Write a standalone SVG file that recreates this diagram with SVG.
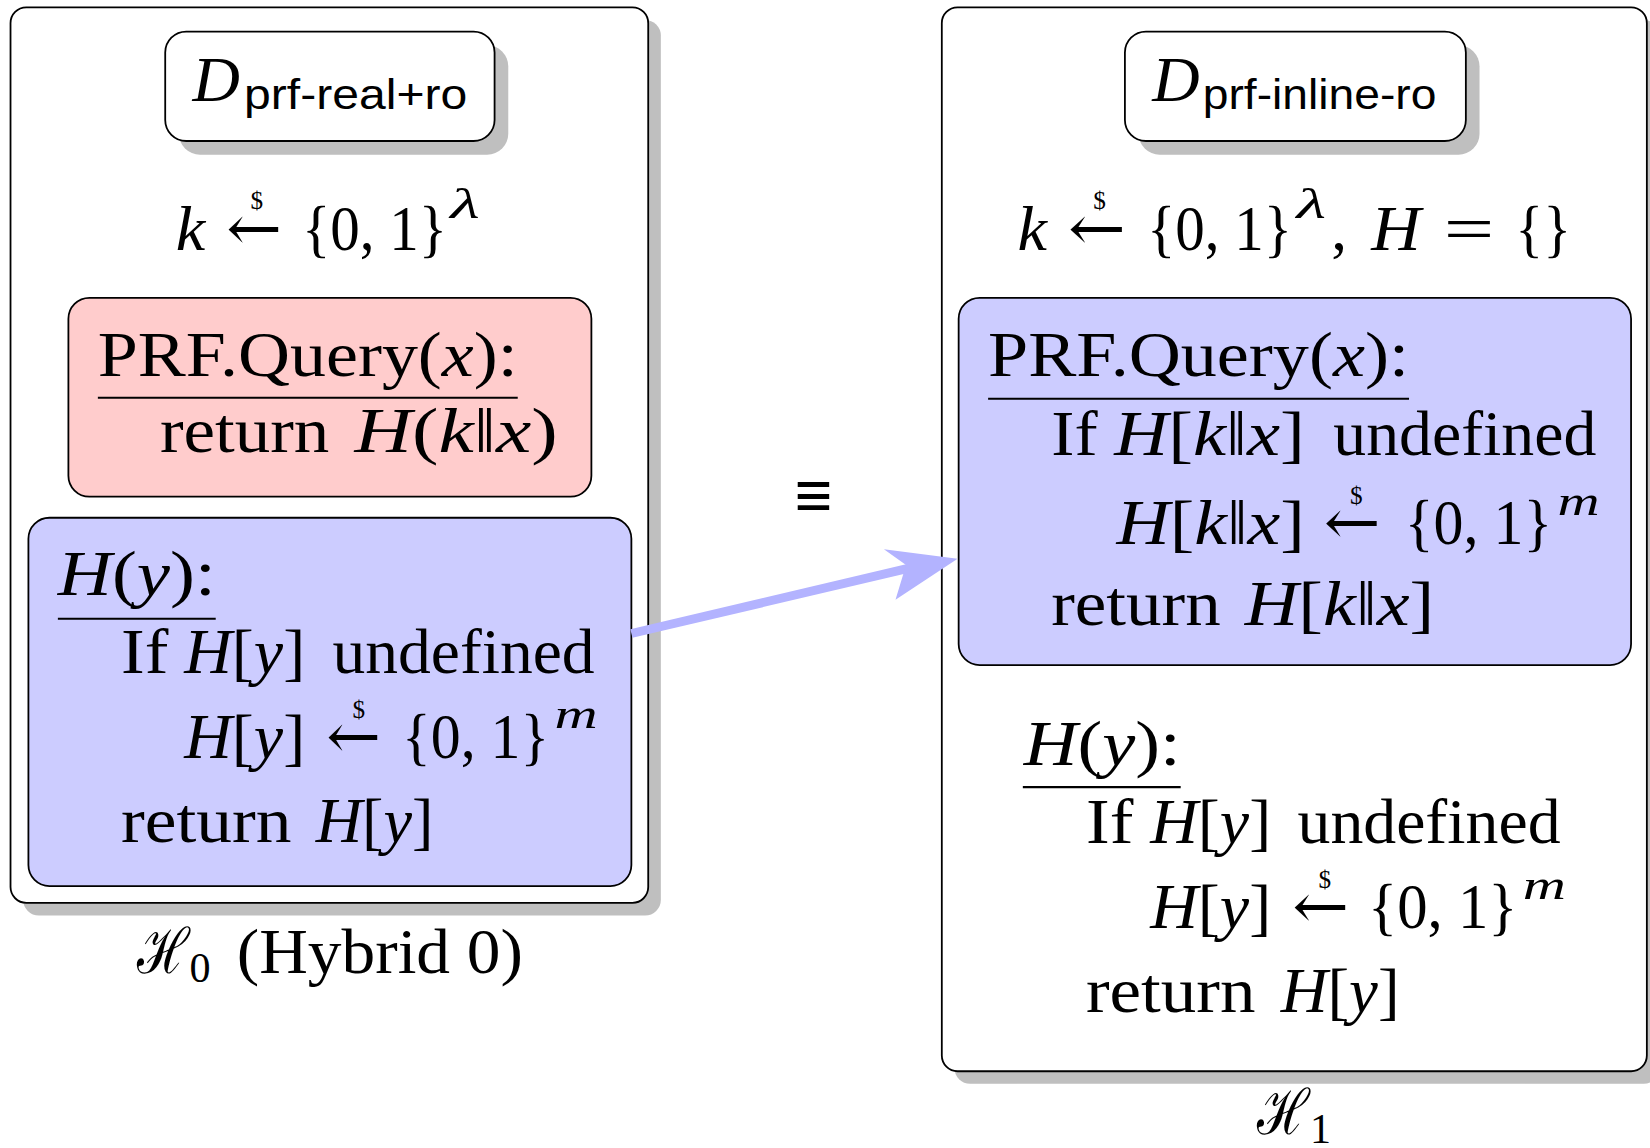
<svg xmlns="http://www.w3.org/2000/svg" width="1650" height="1148" viewBox="0 0 1650 1148">
<defs>
<style>
.t{font-family:"Liberation Serif","DejaVu Serif",serif;font-size:60px;fill:#000}
.i{font-style:italic}
.sf{font-family:"Liberation Sans","DejaVu Sans",sans-serif;font-size:40px}
.sm{font-size:40px}
.dl{font-size:24px}
.ar{font-family:"DejaVu Serif","Liberation Serif",serif}
.sh{fill:#bfbfbf;stroke:none}
.bx{fill:#fff;stroke:#000;stroke-width:1.7}
.red{fill:#ffcccc;stroke:#000;stroke-width:1.7}
.blue{fill:#ccccff;stroke:#000;stroke-width:1.7}
.ul{stroke:#000;stroke-width:2}
</style>
</defs>
<rect width="1650" height="1148" fill="#fff"/>
<g transform="scale(1.0523)">
<g id="hybrid0">
<rect class="sh" x="22" y="19" width="606" height="851" rx="15"/>
<rect class="bx" x="10" y="7" width="606" height="851" rx="15"/>
</g>
<g id="hybrid1">
<rect class="sh" x="907" y="19" width="670" height="1011" rx="15"/>
<rect class="bx" x="895" y="7" width="670" height="1011" rx="15"/>
</g>
<g id="dreal">
<rect class="sh" x="170" y="43" width="313" height="104" rx="20"/>
<rect class="bx" x="157" y="30" width="313" height="104" rx="20"/>
<text class="t i" x="183" y="96" font-size="62" textLength="45" lengthAdjust="spacingAndGlyphs">D</text>
<text class="t sf" x="232" y="104" textLength="212" lengthAdjust="spacingAndGlyphs">prf-real+ro</text>
</g>
<g id="kinit0">
<text class="t i" x="167" y="238" textLength="28" lengthAdjust="spacingAndGlyphs">k</text>
<text class="t ar" x="215" y="238" textLength="53" lengthAdjust="spacingAndGlyphs">←</text>
<text class="t dl" x="238" y="199">$</text>
<text class="t" x="287" y="238" textLength="138" lengthAdjust="spacingAndGlyphs">{0, 1}</text>
<text class="t i sm" x="428" y="207" textLength="28" lengthAdjust="spacingAndGlyphs">λ</text>
</g>
<g id="prfquery0">
<rect class="red" x="65" y="283" width="497" height="189" rx="20"/>
<text class="t" x="93" y="357" textLength="399" lengthAdjust="spacingAndGlyphs">PRF.Query(<tspan class="i">x</tspan>):</text>
<line class="ul" x1="93" y1="378" x2="492" y2="378"/>
<text class="t" x="152" y="430" textLength="161" lengthAdjust="spacingAndGlyphs">return</text>
<text class="t" x="337" y="430" textLength="193" lengthAdjust="spacingAndGlyphs"><tspan class="i">H</tspan>(<tspan class="i">k</tspan>‖<tspan class="i">x</tspan>)</text>
</g>
<g id="hfunc0">
<rect class="blue" x="27" y="492" width="573" height="350" rx="20"/>
<text class="t" x="55" y="565" textLength="150" lengthAdjust="spacingAndGlyphs"><tspan class="i">H</tspan>(<tspan class="i">y</tspan>):</text>
<line class="ul" x1="55" y1="588" x2="205" y2="588"/>
<text class="t" x="115" y="640" textLength="45" lengthAdjust="spacingAndGlyphs">If</text>
<text class="t" x="175" y="640" textLength="115" lengthAdjust="spacingAndGlyphs"><tspan class="i">H</tspan>[<tspan class="i">y</tspan>]</text>
<text class="t" x="316" y="640" textLength="249" lengthAdjust="spacingAndGlyphs">undefined</text>
<text class="t" x="175" y="720" textLength="115" lengthAdjust="spacingAndGlyphs"><tspan class="i">H</tspan>[<tspan class="i">y</tspan>]</text>
<text class="t ar" x="310" y="720" textLength="52" lengthAdjust="spacingAndGlyphs">←</text>
<text class="t dl" x="335" y="682">$</text>
<text class="t" x="382" y="720" textLength="140" lengthAdjust="spacingAndGlyphs">{0, 1}</text>
<text class="t i sm" x="527" y="692" textLength="41" lengthAdjust="spacingAndGlyphs">m</text>
<text class="t" x="115" y="800" textLength="162" lengthAdjust="spacingAndGlyphs">return</text>
<text class="t" x="300" y="800" textLength="112" lengthAdjust="spacingAndGlyphs"><tspan class="i">H</tspan>[<tspan class="i">y</tspan>]</text>
</g>
<g id="label0">
<text class="t ar" x="130" y="925" textLength="50" lengthAdjust="spacingAndGlyphs">ℋ</text>
<text class="t sm" x="180" y="933" textLength="20" lengthAdjust="spacingAndGlyphs">0</text>
<text class="t" x="225" y="925" textLength="272" lengthAdjust="spacingAndGlyphs">(Hybrid 0)</text>
</g>
<g id="equiv">
<text class="t ar" x="753" y="490" font-size="54" textLength="40" lengthAdjust="spacingAndGlyphs">≡</text>
</g>
<g id="dinline">
<rect class="sh" x="1082" y="43" width="324" height="104" rx="20"/>
<rect class="bx" x="1069" y="30" width="324" height="104" rx="20"/>
<text class="t i" x="1095" y="96" font-size="62" textLength="45" lengthAdjust="spacingAndGlyphs">D</text>
<text class="t sf" x="1143" y="104" textLength="222" lengthAdjust="spacingAndGlyphs">prf-inline-ro</text>
</g>
<g id="kinit1">
<text class="t i" x="967" y="238" textLength="28" lengthAdjust="spacingAndGlyphs">k</text>
<text class="t ar" x="1015" y="238" textLength="55" lengthAdjust="spacingAndGlyphs">←</text>
<text class="t dl" x="1039" y="199">$</text>
<text class="t" x="1090" y="238" textLength="138" lengthAdjust="spacingAndGlyphs">{0, 1}</text>
<text class="t i sm" x="1232" y="207" textLength="28" lengthAdjust="spacingAndGlyphs">λ</text>
<text class="t" x="1265" y="238">,</text>
<text class="t i" x="1303" y="238" textLength="47" lengthAdjust="spacingAndGlyphs">H</text>
<text class="t" x="1372" y="238" textLength="48" lengthAdjust="spacingAndGlyphs">=</text>
<text class="t" x="1440" y="238" textLength="53" lengthAdjust="spacingAndGlyphs">{}</text>
</g>
<g id="prfquery1">
<rect class="blue" x="911" y="283" width="639" height="349" rx="20"/>
<text class="t" x="939" y="357" textLength="400" lengthAdjust="spacingAndGlyphs">PRF.Query(<tspan class="i">x</tspan>):</text>
<line class="ul" x1="939" y1="379" x2="1339" y2="379"/>
<text class="t" x="999" y="432" textLength="44" lengthAdjust="spacingAndGlyphs">If</text>
<text class="t" x="1059" y="432" textLength="181" lengthAdjust="spacingAndGlyphs"><tspan class="i">H</tspan>[<tspan class="i">k</tspan>‖<tspan class="i">x</tspan>]</text>
<text class="t" x="1267" y="432" textLength="250" lengthAdjust="spacingAndGlyphs">undefined</text>
<text class="t" x="1061" y="517" textLength="179" lengthAdjust="spacingAndGlyphs"><tspan class="i">H</tspan>[<tspan class="i">k</tspan>‖<tspan class="i">x</tspan>]</text>
<text class="t ar" x="1258" y="517" textLength="54" lengthAdjust="spacingAndGlyphs">←</text>
<text class="t dl" x="1283" y="479">$</text>
<text class="t" x="1335" y="517" textLength="140" lengthAdjust="spacingAndGlyphs">{0, 1}</text>
<text class="t i sm" x="1480" y="489" textLength="40" lengthAdjust="spacingAndGlyphs">m</text>
<text class="t" x="999" y="594" textLength="161" lengthAdjust="spacingAndGlyphs">return</text>
<text class="t" x="1183" y="594" textLength="180" lengthAdjust="spacingAndGlyphs"><tspan class="i">H</tspan>[<tspan class="i">k</tspan>‖<tspan class="i">x</tspan>]</text>
</g>
<g id="hfunc1">
<text class="t" x="973" y="727" textLength="149" lengthAdjust="spacingAndGlyphs"><tspan class="i">H</tspan>(<tspan class="i">y</tspan>):</text>
<line class="ul" x1="972" y1="748" x2="1122" y2="748"/>
<text class="t" x="1032" y="801" textLength="45" lengthAdjust="spacingAndGlyphs">If</text>
<text class="t" x="1093" y="801" textLength="115" lengthAdjust="spacingAndGlyphs"><tspan class="i">H</tspan>[<tspan class="i">y</tspan>]</text>
<text class="t" x="1233" y="801" textLength="250" lengthAdjust="spacingAndGlyphs">undefined</text>
<text class="t" x="1093" y="882" textLength="115" lengthAdjust="spacingAndGlyphs"><tspan class="i">H</tspan>[<tspan class="i">y</tspan>]</text>
<text class="t ar" x="1228" y="882" textLength="54" lengthAdjust="spacingAndGlyphs">←</text>
<text class="t dl" x="1253" y="844">$</text>
<text class="t" x="1300" y="882" textLength="142" lengthAdjust="spacingAndGlyphs">{0, 1}</text>
<text class="t i sm" x="1447" y="854" textLength="41" lengthAdjust="spacingAndGlyphs">m</text>
<text class="t" x="1032" y="962" textLength="161" lengthAdjust="spacingAndGlyphs">return</text>
<text class="t" x="1217" y="962" textLength="113" lengthAdjust="spacingAndGlyphs"><tspan class="i">H</tspan>[<tspan class="i">y</tspan>]</text>
</g>
<g id="label1">
<text class="t ar" x="1195" y="1078" textLength="50" lengthAdjust="spacingAndGlyphs">ℋ</text>
<text class="t sm" x="1245" y="1086" textLength="20" lengthAdjust="spacingAndGlyphs">1</text>
</g>
<g id="connectors">
<line x1="600" y1="602" x2="868" y2="539" stroke="#b3b3ff" stroke-width="8.5"/>
<polygon points="910,531 851,570 861,537 840,522" fill="#b3b3ff"/>
</g>
</g>
</svg>
